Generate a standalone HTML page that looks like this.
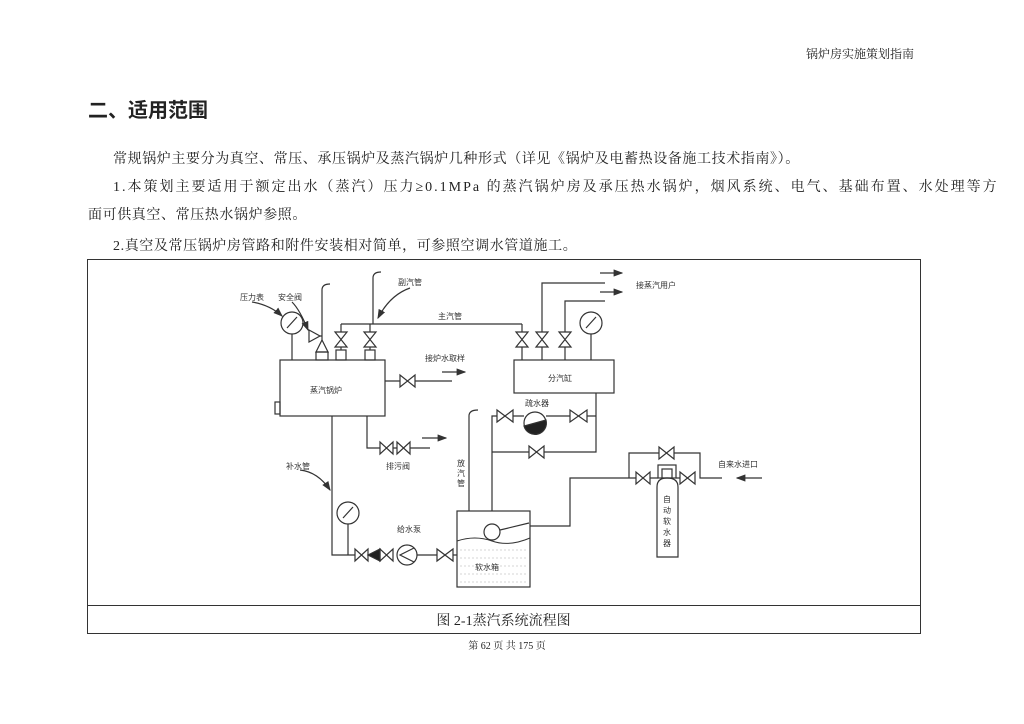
<!DOCTYPE html>
<html><head><meta charset="utf-8"><style>
body{margin:0;background:#fff;}
.p{position:absolute;font-family:"Liberation Serif","Noto Serif CJK SC",serif;color:#222;white-space:nowrap;}
</style></head><body>
<div style="position:relative;width:1024px;height:724px;overflow:hidden;background:#fff">
<div class="p" style="left:806px;top:45px;font-size:12px">锅炉房实施策划指南</div>
<div class="p" style="left:88px;top:94px;font-size:20px;font-weight:bold;font-family:'Liberation Sans','Noto Sans CJK SC',sans-serif">二、适用范围</div>
<div class="p" style="left:113px;top:148px;font-size:14px;letter-spacing:0.6px">常规锅炉主要分为真空、常压、承压锅炉及蒸汽锅炉几种形式（详见《锅炉及电蓄热设备施工技术指南》）。</div>
<div class="p" style="left:113px;top:176px;font-size:14px;letter-spacing:2px">1.本策划主要适用于额定出水（蒸汽）压力≥0.1MPa 的蒸汽锅炉房及承压热水锅炉，烟风系统、电气、基础布置、水处理等方</div>
<div class="p" style="left:88px;top:204px;font-size:14px;letter-spacing:0.6px">面可供真空、常压热水锅炉参照。</div>
<div class="p" style="left:113px;top:235px;font-size:14px;letter-spacing:0.6px">2.真空及常压锅炉房管路和附件安装相对简单，可参照空调水管道施工。</div>
<div style="position:absolute;left:87px;top:259px;width:832px;height:373px;border:1px solid #333"></div>
<div style="position:absolute;left:87px;top:605px;width:833px;border-top:1px solid #333"></div>
<div class="p" style="left:0;width:1007px;text-align:center;top:610px;font-size:14px">图 2-1蒸汽系统流程图</div>
<div class="p" style="left:0;width:1014px;text-align:center;top:637px;font-size:10px">第 62 页 共 175 页</div>
<svg width="1024" height="724" style="position:absolute;left:0;top:0" font-family="Liberation Sans,Noto Sans CJK SC,sans-serif" font-size="8" fill="none" stroke="#333" stroke-width="1.2">
<defs><marker id="a" markerWidth="8" markerHeight="6" refX="7" refY="3" orient="auto"><path d="M0,0L8,3L0,6z" fill="#333" stroke="none"/></marker></defs>
<rect x="280" y="360" width="105" height="56"/>
<rect x="275" y="402" width="5" height="12"/>
<circle cx="292" cy="323" r="11"/><path d="M287,328L297,317M292,334V360"/>
<path d="M252,302Q270,305 282,316" marker-end="url(#a)"/>
<path d="M292,302Q300,310 308,330" marker-end="url(#a)"/>
<path d="M309,330L309,342L320,336Z"/><path d="M316,352L328,352L322,340Z"/><rect x="316" y="352" width="12" height="8"/>
<path d="M320,336H322M322,340V290Q322,284 330,284"/>
<path d="M335,332H347L335,347H347Z"/><rect x="336" y="350" width="10" height="10"/><path d="M341,324V332M341,347V350"/>
<path d="M364,332H376L364,347H376Z"/><rect x="365" y="350" width="10" height="10"/><path d="M370,324V332M370,347V350"/>
<path d="M341,324H522"/>
<path d="M373,324V278Q373,272 381,272"/>
<path d="M410,288Q390,295 378,318" marker-end="url(#a)"/>
<rect x="514" y="360" width="100" height="33"/>
<path d="M516,332H528L516,347H528Z"/><path d="M522,324V332M522,347V360"/>
<path d="M536,332H548L536,347H548Z"/><path d="M542,332V283H605M542,347V360"/>
<path d="M559,332H571L559,347H571Z"/><path d="M565,332V301H605M565,347V360"/>
<circle cx="591" cy="323" r="11"/><path d="M586,328L596,317M591,334V360"/>
<path d="M600,273H622" marker-end="url(#a)"/>
<path d="M600,292H622" marker-end="url(#a)"/>
<path d="M385,381H400M400,375V387L415,375V387ZM415,381H452"/>
<path d="M442,372H465" marker-end="url(#a)"/>
<path d="M332,416V555H355M367,416V448H380"/>
<path d="M380,442V454L393,442V454ZM397,442V454L410,442V454ZM393,448H397M410,448H430"/>
<path d="M422,438H446" marker-end="url(#a)"/>
<path d="M300,470Q318,472 330,490" marker-end="url(#a)"/>
<circle cx="348" cy="513" r="11"/><path d="M343,518L353,507M348,524V555"/>
<path d="M355,549V561L368,549V561Z"/><path d="M368,555L380,549V561Z" fill="#222"/><path d="M380,549V561L393,549V561Z"/>
<circle cx="407" cy="555" r="10"/><path d="M414,548L400,555L414,562"/>
<path d="M417,555H437M437,549V561L453,549V561ZM453,555H457"/>
<rect x="457" y="511" width="73" height="76"/>
<path d="M457,541Q475,535 492,541T530,538" stroke-width="1"/>
<path d="M460,550H528M460,558H528M460,566H528M460,574H528M460,582H528" stroke="#aaa" stroke-width=".6" stroke-dasharray="2,2"/>
<circle cx="492" cy="532" r="8" fill="#fff"/><path d="M500,530L529,523"/>
<path d="M469,511V416Q469,410 478,410"/>
<path d="M492,511V416H497M497,410V422L513,410V422ZM513,416H524"/>
<circle cx="535" cy="423" r="11"/><path d="M524,426A11,11 0 0 0 546,420Z" fill="#222"/>
<path d="M546,416H570M570,410V422L587,410V422ZM587,416H596M596,393V452H492"/>
<path d="M529,446V458L544,446V458Z" fill="#fff"/>
<path d="M530,526H570V478H636M629,478V453H659M659,447V459L674,447V459ZM674,453H700V478H722M636,472V484L650,472V484ZM650,478H658M676,478H680M680,472V484L695,472V484Z"/>
<rect x="658" y="465" width="18" height="13"/><rect x="662" y="469" width="10" height="9"/>
<path d="M657,557V487Q657,478 667,478Q678,478 678,487V557Z"/>
<path d="M762,478H737" marker-end="url(#a)"/>
<g fill="#333" stroke="none">
<text x="240" y="300">压力表</text><text x="278" y="300">安全阀</text>
<text x="398" y="285">副汽管</text><text x="438" y="319">主汽管</text>
<text x="636" y="288">接蒸汽用户</text><text x="425" y="361">接炉水取样</text>
<text x="310" y="393">蒸汽锅炉</text><text x="548" y="381">分汽缸</text>
<text x="525" y="406">疏水器</text><text x="386" y="469">排污阀</text>
<text x="286" y="469">补水管</text><text x="397" y="532">给水泵</text>
<text x="475" y="570">软水箱</text><text x="718" y="467">自来水进口</text>
<text x="457" y="466">放</text><text x="457" y="476">汽</text><text x="457" y="486">管</text>
<text x="663" y="502">自</text><text x="663" y="513">动</text><text x="663" y="524">软</text><text x="663" y="535">水</text><text x="663" y="546">器</text>
</g>
</svg>
</div>
</body></html>
